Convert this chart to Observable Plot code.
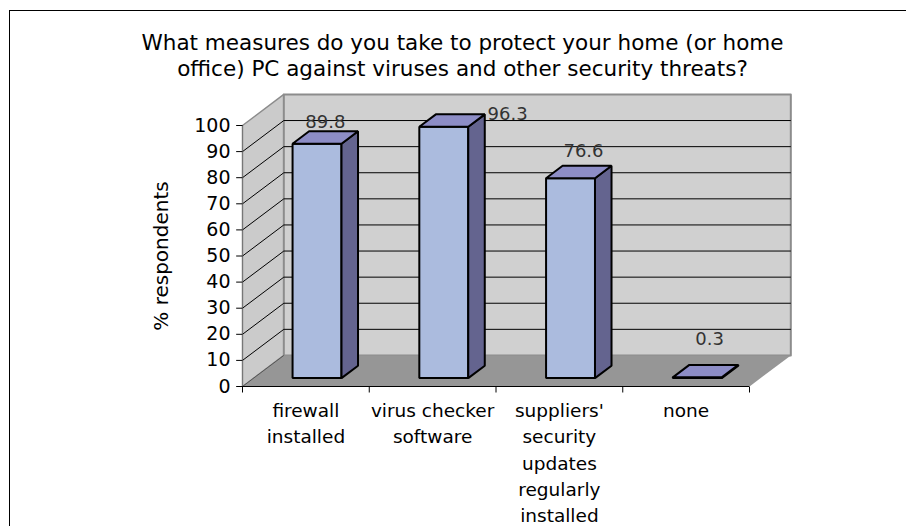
<!DOCTYPE html>
<html>
<head>
<meta charset="utf-8">
<script src="https://cdn.jsdelivr.net/npm/d3@7"></script>
<script src="https://cdn.jsdelivr.net/npm/@observablehq/plot@0.6"></script>
<style>
  body { margin: 0; background: #fff; }
  #chart svg { display: block; }
</style>
</head>
<body>
<div id="chart"></div>
<script>
// Survey answers: share of respondents per protection measure
const categories = [
  "firewall installed",
  "virus checker software",
  "suppliers' security updates regularly installed",
  "none"
];
const axisLabels = [
  "firewall\ninstalled",
  "virus checker\nsoftware",
  "suppliers'\nsecurity\nupdates\nregularly\ninstalled",
  "none"
];
const values = [89.8, 96.3, 76.6, 0.3];
const yTicks = [0, 10, 20, 30, 40, 50, 60, 70, 80, 90, 100];
const titleText = "What measures do you take to protect your home (or home\noffice) PC against viruses and other security threats?";
const yLabel = "% respondents";

// Oblique 3-D projection: x in category units, y in value units, d = depth 0 (front) .. 1 (back wall)
const DEPTH_X = 0.326;
const DEPTH_Y = 11.9;
const BAR_W = 0.386;
const BAR_D0 = 0.27;
const BAR_D1 = 0.67;
const proj = (c, v, d) => ({x: c + d * DEPTH_X, y: v + d * DEPTH_Y});
const poly = (id, pts) => pts.map(([c, v, d]) => ({id, ...proj(c, v, d)}));

const n = categories.length;
const vMax = yTicks[yTicks.length - 1];

const leftWall = poly("left", [[0, 0, 0], [0, vMax, 0], [0, vMax, 1], [0, 0, 1]]);
const backWall = poly("back", [[0, 0, 1], [n, 0, 1], [n, vMax, 1], [0, vMax, 1]]);
const floor = poly("floor", [[0, 0, 0], [n, 0, 0], [n, 0, 1], [0, 0, 1]]);

const barEdges = (i) => [i + 0.5 - BAR_W / 2, i + 0.5 + BAR_W / 2];
const fronts = values.flatMap((v, i) => {
  const [c0, c1] = barEdges(i);
  return poly(i, [[c0, 0, BAR_D0], [c1, 0, BAR_D0], [c1, v, BAR_D0], [c0, v, BAR_D0]]);
});
const tops = values.flatMap((v, i) => {
  const [c0, c1] = barEdges(i);
  return poly(i, [[c0, v, BAR_D0], [c1, v, BAR_D0], [c1, v, BAR_D1], [c0, v, BAR_D1]]);
});
const sides = values.flatMap((v, i) => {
  const [, c1] = barEdges(i);
  return poly(i, [[c1, 0, BAR_D0], [c1, 0, BAR_D1], [c1, v, BAR_D1], [c1, v, BAR_D0]]);
});

const grid = yTicks.filter((t) => t > 0 && t < vMax);

// Offsets (px) for the value labels, placed the way the spreadsheet placed them
const labelPlacement = [
  {dx: 0, dy: -8.6, anchor: "middle"},
  {dx: 35.5, dy: 0, anchor: "start"},
  {dx: 4.7, dy: -14.4, anchor: "middle"},
  {dx: 4, dy: -25.2, anchor: "middle"}
];

const face = (data, fill) => Plot.line(data, {
  x: "x", y: "y", z: "id", curve: "linear-closed",
  fill, stroke: "#000", strokeWidth: 2, strokeLinejoin: "miter"
});

// Each value label sits above the back edge of its bar's top face
const valueLabels = values.map((v, i) => {
  const cx = i + 0.5 + ((BAR_D0 + BAR_D1) / 2) * DEPTH_X;
  const cy = proj(0, v, BAR_D1).y;
  const s = labelPlacement[i];
  return Plot.text([{x: cx, y: cy, label: v.toFixed(1)}], {
    x: "x", y: "y", text: "label",
    dx: s.dx, dy: s.dy, textAnchor: s.anchor,
    fontSize: 18, fill: "#333"
  });
});

const chart = Plot.plot({
  width: 906,
  height: 526,
  marginLeft: 9,
  marginTop: 10,
  marginRight: 0,
  marginBottom: 0,
  style: {fontFamily: "'DejaVu Sans', sans-serif", background: "#fff", color: "#000"},
  x: {type: "linear", domain: [0, n], range: [242, 749], axis: null},
  y: {type: "linear", domain: [0, vMax], range: [386, 125], axis: null},
  marks: [
    // outer chart border
    Plot.frame({anchor: "left", stroke: "#000"}),
    Plot.frame({anchor: "top", stroke: "#000"}),
    // title
    Plot.text([titleText], {
      frameAnchor: "top", dx: 4.5, dy: 21.5, lineAnchor: "top",
      lineHeight: 1.21, fontSize: 21.5, fill: "#000"
    }),
    // walls and floor
    Plot.line(leftWall, {x: "x", y: "y", z: "id", curve: "linear-closed", fill: "#cbcbcb", stroke: "#8c8c8c", strokeWidth: 1.5}),
    Plot.line(backWall, {x: "x", y: "y", z: "id", curve: "linear-closed", fill: "#d0d0d0", stroke: "#8c8c8c", strokeWidth: 2}),
    Plot.line(floor, {x: "x", y: "y", z: "id", curve: "linear-closed", fill: "#969696", stroke: "none"}),
    // gridlines on the back and left walls
    Plot.link(grid, {
      x1: () => proj(0, 0, 1).x, x2: () => proj(n, 0, 1).x,
      y1: (t) => proj(0, t, 1).y, y2: (t) => proj(0, t, 1).y,
      stroke: "#000", strokeWidth: 1
    }),
    Plot.link(grid, {
      x1: () => 0, x2: () => proj(0, 0, 1).x,
      y1: (t) => t, y2: (t) => proj(0, t, 1).y,
      stroke: "#000", strokeWidth: 1
    }),
    Plot.link([0], {
      x1: () => 0, x2: () => proj(0, 0, 1).x,
      y1: () => 0, y2: () => proj(0, 0, 1).y,
      stroke: "#555", strokeWidth: 1
    }),
    // value axis
    Plot.ruleX([0], {y1: 0, y2: vMax, stroke: "#777", strokeWidth: 1}),
    Plot.link(yTicks, {x1: () => 0, x2: () => -0.05, y1: (t) => t, y2: (t) => t, stroke: "#000"}),
    Plot.text(yTicks, {x: () => 0, y: (t) => t, text: (t) => String(t), dx: -12, textAnchor: "end", fontSize: 19, fill: "#000"}),
    Plot.text([yLabel], {
      x: () => -0.637, y: () => vMax / 2, rotate: -90,
      fontSize: 20, fill: "#000"
    }),
    // bars
    face(fronts, "#abbbde"),
    face(sides, "#64648f"),
    face(tops, "#8d8dc6"),
    // category axis
    Plot.ruleY([0], {x1: 0, x2: n, stroke: "#000", strokeWidth: 1}),
    Plot.link(d3.range(n + 1), {x1: (c) => c, x2: (c) => c, y1: () => 0, y2: () => -2.3, stroke: "#000"}),
    Plot.text(axisLabels, {
      x: (d, i) => i + 0.5, y: () => 0, text: (d) => d,
      lineAnchor: "top", lineHeight: 1.42, dy: 12, fontSize: 18.5, fill: "#000"
    }),
    ...valueLabels
  ]
});

document.getElementById("chart").append(chart);
</script>
</body>
</html>
